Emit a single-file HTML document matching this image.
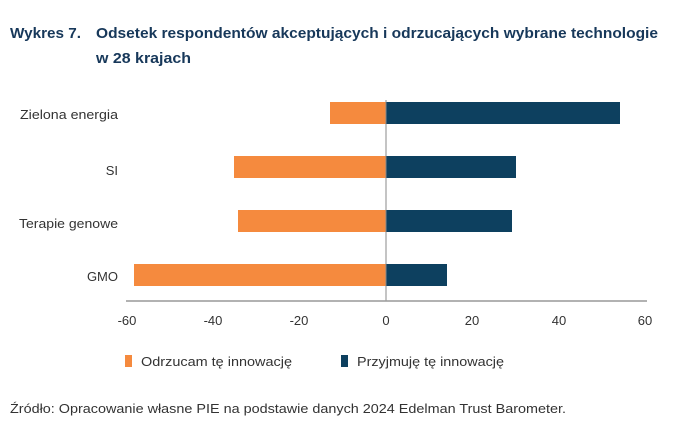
<!DOCTYPE html>
<html><head><meta charset="utf-8"><style>
body{margin:0;background:#fff;width:690px;height:432px;overflow:hidden;font-family:"Liberation Sans",sans-serif;}
svg{display:block}
</style></head><body>
<svg width="690" height="432" xmlns="http://www.w3.org/2000/svg" font-family="Liberation Sans, sans-serif">
<text x="10" y="38" font-size="15" font-weight="bold" fill="#17385a" textLength="71" lengthAdjust="spacingAndGlyphs">Wykres 7.</text>
<text x="96" y="38" font-size="15" font-weight="bold" fill="#17385a" textLength="562" lengthAdjust="spacingAndGlyphs">Odsetek respondentów akceptujących i odrzucających wybrane technologie</text>
<text x="96" y="63" font-size="15" font-weight="bold" fill="#17385a" textLength="95" lengthAdjust="spacingAndGlyphs">w 28 krajach</text>
<g fill="#f58a3e">
<rect x="330" y="102" width="56" height="22"/>
<rect x="234" y="156" width="152" height="22"/>
<rect x="238" y="210" width="148" height="22"/>
<rect x="134" y="264" width="252" height="22"/>
</g>
<g fill="#0d405f">
<rect x="386" y="102" width="234" height="22"/>
<rect x="386" y="156" width="130" height="22"/>
<rect x="386" y="210" width="126" height="22"/>
<rect x="386" y="264" width="61" height="22"/>
</g>
<line x1="386" y1="100" x2="386" y2="301" stroke="#888" stroke-width="1"/>
<line x1="126" y1="301" x2="647" y2="301" stroke="#999" stroke-width="1.5"/>
<g font-size="13" fill="#333" text-anchor="end">
<text x="118" y="119" textLength="98" lengthAdjust="spacingAndGlyphs">Zielona energia</text>
<text x="118" y="175">SI</text>
<text x="118" y="228" textLength="99" lengthAdjust="spacingAndGlyphs">Terapie genowe</text>
<text x="118" y="281">GMO</text>
</g>
<g font-size="13" fill="#333" text-anchor="middle">
<text x="127" y="325">-60</text>
<text x="213" y="325">-40</text>
<text x="299" y="325">-20</text>
<text x="386" y="325">0</text>
<text x="472" y="325">20</text>
<text x="559" y="325">40</text>
<text x="645" y="325">60</text>
</g>
<rect x="125" y="355" width="7" height="12" fill="#f58a3e"/>
<text x="141" y="366" font-size="13" fill="#333" textLength="151" lengthAdjust="spacingAndGlyphs">Odrzucam tę innowację</text>
<rect x="341" y="355" width="7" height="12" fill="#0d405f"/>
<text x="357" y="366" font-size="13" fill="#333" textLength="147" lengthAdjust="spacingAndGlyphs">Przyjmuję tę innowację</text>
<text x="10" y="413" font-size="13" fill="#333" textLength="556" lengthAdjust="spacingAndGlyphs">Źródło: Opracowanie własne PIE na podstawie danych 2024 Edelman Trust Barometer.</text>
</svg>
</body></html>
